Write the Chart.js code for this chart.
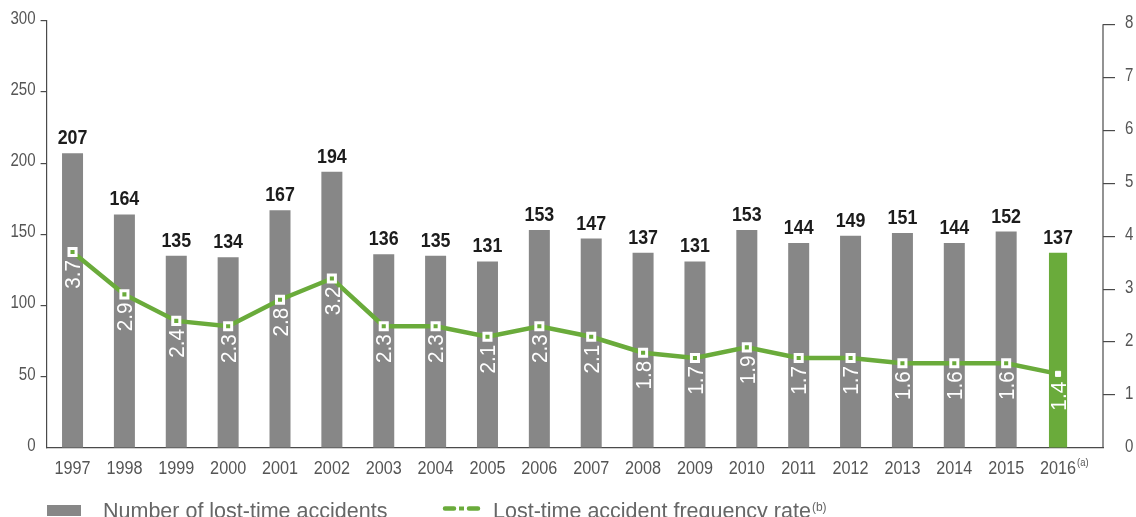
<!DOCTYPE html>
<html><head><meta charset="utf-8">
<script src="https://cdn.jsdelivr.net/npm/chart.js@4/dist/chart.umd.min.js"></script>
<style>html,body{margin:0;padding:0;background:#fff;overflow:hidden}canvas{display:block}</style>
</head><body>
<canvas id="c" width="1136" height="517"></canvas>
<script>
// ---- data ----
const years = ['1997','1998','1999','2000','2001','2002','2003','2004','2005','2006','2007','2008','2009','2010','2011','2012','2013','2014','2015','2016'];
const accidents = [207,164,135,134,167,194,136,135,131,153,147,137,131,153,144,149,151,144,152,137];
const rates = [3.7,2.9,2.4,2.3,2.8,3.2,2.3,2.3,2.1,2.3,2.1,1.8,1.7,1.9,1.7,1.7,1.6,1.6,1.6,1.4];
const leftTicks = [0,50,100,150,200,250,300];
const rightTicks = [0,1,2,3,4,5,6,7,8];
const yearNotes = {'2016':'(a)'};
const seriesNames = ['Number of lost-time accidents','Lost-time accident frequency rate'];
const seriesNotes = ['','(b)'];
const highlightYear = '2016';

// ---- style ----
const GREY = '#878787';
const GREEN = '#6aab3b';
const AXIS = '#4a4a4a';
const TICKTXT = '#555555';
const FAM = "'Liberation Sans',Arial,'Helvetica',sans-serif";
const hi = years.indexOf(highlightYear);

const greyData = years.map((y,i)=>({x:i, y: i===hi ? null : accidents[i]}));
const greenData = years.map((y,i)=>({x:i, y: i===hi ? accidents[i] : null}));
const rateData = years.map((y,i)=>({x:i, y: rates[i]}));

// draw horizontally condensed text
function narrowText(ctx, text, x, y, font, align, baseline, sx){
  ctx.save();
  ctx.translate(x, y);
  ctx.scale(sx, 1);
  ctx.font = font;
  ctx.textAlign = align;
  ctx.textBaseline = baseline;
  ctx.fillText(text, 0, 0);
  const w = ctx.measureText(text).width * sx;
  ctx.restore();
  return w;
}

const labelsPlugin = {
  id:'labels',
  afterDatasetsDraw(chart){
    const ctx = chart.ctx, xs = chart.scales.x, yl = chart.scales.yL, yr = chart.scales.yR;
    ctx.save();
    years.forEach((yr_, i)=>{
      const px = xs.getPixelForValue(i);
      // bar values
      ctx.fillStyle = '#1c1c1c';
      narrowText(ctx, String(accidents[i]), px, yl.getPixelForValue(accidents[i]) - 9,
        "bold 20.5px " + FAM, 'center', 'alphabetic', 0.87);
      // rates rotated
      const py = yr.getPixelForValue(rates[i]);
      ctx.save();
      ctx.translate(px, py + 8);
      ctx.rotate(-Math.PI/2);
      ctx.scale(0.92, 1);
      ctx.font = "22.5px " + FAM;
      ctx.fillStyle = '#ffffff';
      ctx.textAlign = 'right';
      ctx.textBaseline = 'middle';
      ctx.fillText(rates[i].toFixed(1), 0, 1.5);
      ctx.restore();
    });
    ctx.restore();
  },
  afterDraw(chart){
    const ctx = chart.ctx, xs = chart.scales.x, yl = chart.scales.yL, yr = chart.scales.yR;
    ctx.save();
    // right axis line
    ctx.strokeStyle = AXIS; ctx.lineWidth = 1.2;
    ctx.beginPath();
    ctx.moveTo(yr.left, yr.getPixelForValue(rightTicks[rightTicks.length-1]));
    ctx.lineTo(yr.left, yr.bottom);
    ctx.stroke();
    // tick labels
    ctx.fillStyle = TICKTXT;
    yl.ticks.forEach(t=>{
      narrowText(ctx, String(t.value), yl.right - 11, yl.getPixelForValue(t.value) - 2,
        "17.5px " + FAM, 'right', 'middle', 0.86);
    });
    yr.ticks.forEach(t=>{
      narrowText(ctx, String(t.value), yr.left + 22, yr.getPixelForValue(t.value) - 1,
        "17.5px " + FAM, 'left', 'middle', 0.86);
    });
    years.forEach((y,i)=>{
      const px = xs.getPixelForValue(i);
      const w = narrowText(ctx, y, px, 474, "18px " + FAM, 'center', 'alphabetic', 0.9);
      if (yearNotes[y]) {
        narrowText(ctx, yearNotes[y], px + w/2 + 1, 466, "10.5px " + FAM, 'left', 'alphabetic', 0.9);
      }
    });
    // legend
    ctx.fillStyle = GREY;
    ctx.fillRect(47, 505, 34, 11);
    ctx.font = "21.5px " + FAM;
    ctx.fillStyle = '#666666';
    ctx.textAlign = 'left'; ctx.textBaseline = 'alphabetic';
    ctx.fillText(seriesNames[0], 103, 518);
    ctx.strokeStyle = GREEN; ctx.lineWidth = 4.5; ctx.lineCap = 'round';
    ctx.beginPath();
    ctx.moveTo(445, 508.5); ctx.lineTo(454, 508.5);
    ctx.moveTo(469, 508.5); ctx.lineTo(478, 508.5);
    ctx.stroke();
    ctx.fillStyle = GREEN;
    ctx.fillRect(459, 506.5, 5, 4);
    ctx.fillStyle = '#666666';
    ctx.fillText(seriesNames[1], 493, 518);
    const w2 = ctx.measureText(seriesNames[1]).width;
    ctx.font = "12px " + FAM;
    ctx.fillText(seriesNotes[1], 493 + w2 + 1, 511);
    ctx.restore();
  }
};

new Chart(document.getElementById('c'), {
  data: {
    datasets: [
      { type:'line', label: seriesNames[1], data: rateData, yAxisID:'yR', order:0,
        borderColor: GREEN, borderWidth: 4.5, tension: 0,
        pointStyle:'rect',
        pointRadius: years.map((y,i)=> i===hi ? 3.6 : 5),
        pointBorderWidth: years.map((y,i)=> i===hi ? 1 : 3),
        pointBackgroundColor: years.map((y,i)=> i===hi ? '#ffffff' : GREEN),
        pointBorderColor: '#ffffff' },
      { type:'bar', label: seriesNames[0], data: greyData, yAxisID:'yL', order:1,
        backgroundColor: GREY, grouped:false, barPercentage:0.405, categoryPercentage:1 },
      { type:'bar', label: seriesNames[0], data: greenData, yAxisID:'yL', order:2,
        backgroundColor: GREEN, grouped:false, barPercentage:0.35, categoryPercentage:1 }
    ]
  },
  options: {
    responsive:false, animation:false, devicePixelRatio:1,
    layout:{ padding:{ top:20.7, left:0, right:0, bottom:0 } },
    plugins:{ legend:{display:false}, tooltip:{enabled:false} },
    scales:{
      x:{ type:'linear', min:-0.5, max:19.867, position:'bottom', offset:false,
        afterBuildTicks(s){ s.ticks = years.map((y,i)=>({value:i})); },
        afterFit(s){ s.height = 69; },
        grid:{ display:true, drawOnChartArea:false, drawTicks:false },
        border:{ display:true, color:AXIS, width:1.2 },
        ticks:{ display:false }
      },
      yL:{ type:'linear', position:'left', min:0, max:300,
        afterBuildTicks(s){ s.ticks = leftTicks.map(v=>({value:v})); },
        afterFit(s){ s.width = 46.6; },
        grid:{ drawOnChartArea:false, drawTicks:true, tickLength:6,
          color:(c)=> c.tick && c.tick.value===0 ? 'rgba(0,0,0,0)' : AXIS, lineWidth:1.2 },
        border:{ display:true, color:AXIS, width:1.2 },
        ticks:{ display:false }
      },
      yR:{ type:'linear', position:'right', min:0, max:8.068,
        afterBuildTicks(s){ s.ticks = rightTicks.map(v=>({value:v})); },
        afterFit(s){ s.width = 33; },
        grid:{ drawOnChartArea:false, drawTicks:true, tickLength:12,
          color:(c)=> c.tick && c.tick.value===0 ? 'rgba(0,0,0,0)' : AXIS, lineWidth:1.2 },
        border:{ display:false },
        ticks:{ display:false }
      }
    }
  },
  plugins:[labelsPlugin]
});
</script>
</body></html>
